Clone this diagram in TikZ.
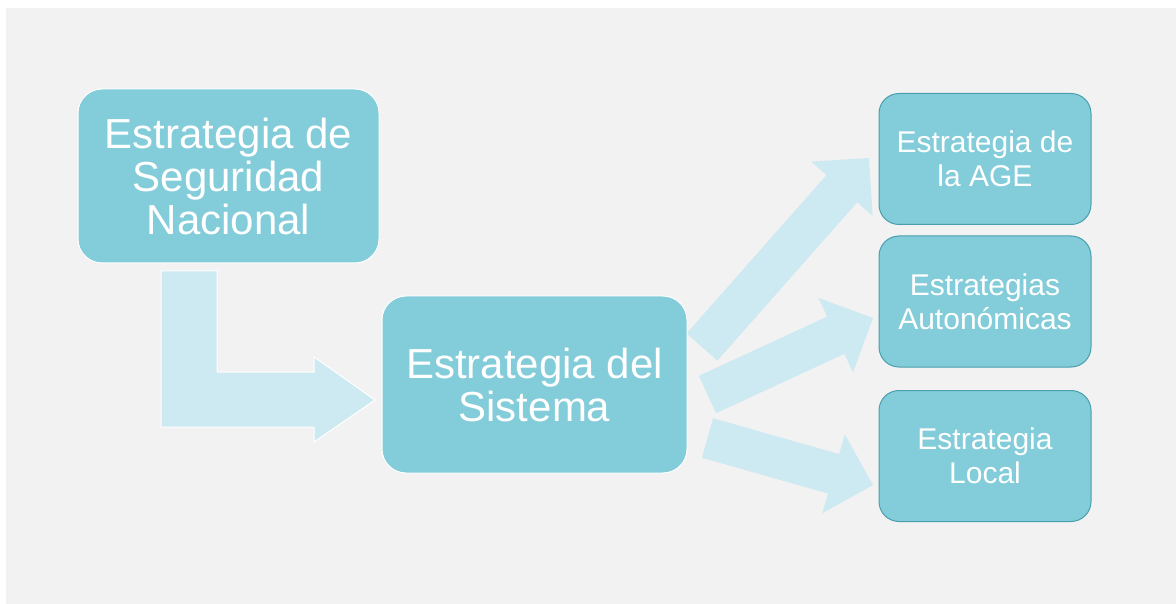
\documentclass[tikz,border=0pt]{standalone}
\usepackage{fontspec}
\setmainfont{Liberation Sans}
\usetikzlibrary{calc}

\definecolor{boxfill}{HTML}{83CCD9}
\definecolor{boxline}{HTML}{4A9FAE}
\definecolor{flowfill}{HTML}{CDE9F1}
\definecolor{bgcol}{HTML}{F2F2F2}

% wide arrow from a tail point to a tip point
\newcommand{\fatarrow}[2]{%
	\coordinate (hb) at ($(#2)!41pt!(#1)$);
	\fill[flow] ($(#1)!20.5pt!90:(#2)$) -- ($(hb)!20.5pt!90:(#2)$) -- ($(hb)!41pt!90:(#2)$) -- (#2)
		-- ($(hb)!41pt!-90:(#2)$) -- ($(hb)!20.5pt!-90:(#2)$) -- ($(#1)!20.5pt!-90:(#2)$) -- cycle;}

\begin{document}
\begin{tikzpicture}[x=1pt, y=-1pt,
	box/.style={rounded corners=24pt, fill=boxfill, draw=white, line width=1pt, text=white, align=center, inner sep=0pt, font=\fontsize{42}{43}\selectfont},
	sub/.style={rounded corners=20pt, fill=boxfill, draw=boxline, line width=1pt, text=white, align=center, inner sep=0pt, minimum width=212pt, minimum height=131pt, font=\fontsize{30}{34}\selectfont},
	flow/.style={fill=flowfill}]
	\useasboundingbox (0,0) rectangle (1176,604);
	\fill[white] (0,0) rectangle (1176,604);
	\fill[bgcol] (6,8) rectangle (1176,604);

	% bent arrow
	\draw[flow, draw=white, line width=1pt] (161,271) -- (217,271) -- (217,372) -- (314,372) -- (314,357)
		-- (375,400) -- (314,442) -- (314,427) -- (161,427) -- cycle;

	\coordinate (t1) at (702,347);
	\coordinate (t2) at (707.5,394.5);
	\coordinate (t3) at (707.5,438);
	\coordinate (p1) at (869,158);
	\coordinate (p2) at (873,318);
	\coordinate (p3) at (873,485);
	\fatarrow{t1}{p1}
	\fatarrow{t2}{p2}
	\fatarrow{t3}{p3}

	\node[box, minimum width=301pt, minimum height=174pt] (snn) at (228.5,176) {Estrategia de\\Seguridad\\Nacional};
	\node[box, minimum width=305pt, minimum height=177pt] (sis) at (534.5,384.5) {Estrategia del\\Sistema};

	\node[sub] (age) at (985,159) {Estrategia de\\la AGE};
	\node[sub] (aut) at (985,301.5) {Estrategias\\Autonómicas};
	\node[sub] (loc) at (985,456) {Estrategia\\Local};
\end{tikzpicture}
\end{document}
